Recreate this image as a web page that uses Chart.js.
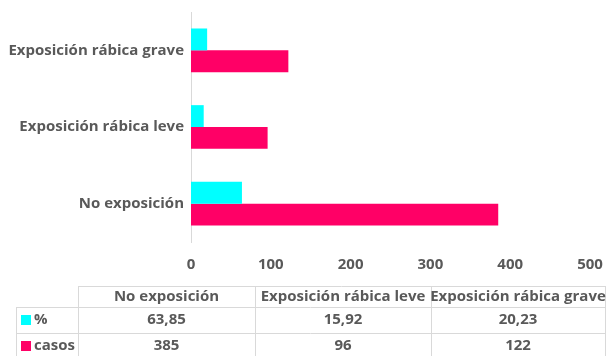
<!DOCTYPE html>
<html lang="es">
<head>
    <meta charset="UTF-8">
    <title>Exposición rábica</title>
    <script src="https://cdn.jsdelivr.net/npm/chart.js"></script>
    <style>
        html, body { margin: 0; padding: 0; background: #fff; }
        .chart-box { width: 609px; height: 356px; }
    </style>
</head>
<body>
    <div class="chart-box">
        <canvas id="grafik"></canvas>
    </div>

    <script>
        // Datos
        const categorias = ['No exposición', 'Exposición rábica leve', 'Exposición rábica grave'];
        const porcentaje = [63.85, 15.92, 20.23];
        const casos = [385, 96, 122];
        const porcentajeTexto = ['63,85', '15,92', '20,23'];
        const casosTexto = ['385', '96', '122'];
        const ticksX = [0, 100, 200, 300, 400, 500];

        const gris = '#595959';
        const linea = '#d9d9d9';
        const fuente = '"Open Sans", sans-serif';
        const tam = 15;

        // Tabla de datos debajo del gráfico
        const tablaDatos = {
            id: 'tablaDatos',
            afterDraw(chart) {
                const ctx = chart.ctx;
                const cols = [78, 255, 431, 605];
                const filas = [286, 307, 333, 356];
                ctx.save();
                ctx.strokeStyle = linea;
                ctx.lineWidth = 1;
                ctx.beginPath();
                ctx.moveTo(cols[0], filas[0] + 0.5); ctx.lineTo(cols[3], filas[0] + 0.5);
                ctx.moveTo(16, filas[1] + 0.5); ctx.lineTo(cols[3], filas[1] + 0.5);
                ctx.moveTo(16, filas[2] + 0.5); ctx.lineTo(cols[3], filas[2] + 0.5);
                ctx.moveTo(16.5, filas[1]); ctx.lineTo(16.5, filas[3]);
                cols.forEach(x => { ctx.moveTo(x + 0.5, filas[0]); ctx.lineTo(x + 0.5, filas[3]); });
                ctx.stroke();

                ctx.fillStyle = gris;
                ctx.font = 'bold ' + tam + 'px ' + fuente;
                ctx.textAlign = 'center';
                ctx.textBaseline = 'middle';
                const series = [porcentajeTexto, casosTexto];
                categorias.forEach((c, i) => {
                    const cx = (cols[i] + cols[i + 1]) / 2;
                    ctx.fillText(c, cx, 297);
                    ctx.fillText(series[0][i], cx, 320);
                    ctx.fillText(series[1][i], cx, 346);
                });

                // leyenda
                const ds = chart.data.datasets;
                const yLeyenda = [320, 346];
                ds.forEach((d, i) => {
                    ctx.fillStyle = d.backgroundColor;
                    ctx.fillRect(21, yLeyenda[i] - 5, 10, 10);
                    ctx.fillStyle = gris;
                    ctx.textAlign = 'left';
                    ctx.fillText(d.label, 34, yLeyenda[i]);
                });
                ctx.restore();
            }
        };

        const ctx = document.getElementById('grafik').getContext('2d');
        new Chart(ctx, {
            type: 'bar',
            data: {
                labels: categorias,
                datasets: [{
                    label: '%',
                    data: porcentaje,
                    backgroundColor: '#00FFFF',
                    borderWidth: 0
                }, {
                    label: 'casos',
                    data: casos,
                    backgroundColor: '#FF0066',
                    borderWidth: 0
                }]
            },
            options: {
                indexAxis: 'y',
                responsive: true,
                maintainAspectRatio: false,
                animation: false,
                datasets: {
                    bar: { categoryPercentage: 0.57, barPercentage: 1 }
                },
                layout: { padding: { top: 12, right: 19, bottom: 82, left: 0 } },
                plugins: {
                    legend: { display: false },
                    tooltip: { enabled: false }
                },
                scales: {
                    y: {
                        reverse: true,
                        afterFit: s => { s.width = 191; s.paddingTop = 0; s.paddingBottom = 0; },
                        grid: { display: false, drawTicks: false },
                        border: { display: true, color: linea, width: 1 },
                        ticks: { color: gris, padding: 7, font: { family: fuente, size: tam, weight: 'bold' } }
                    },
                    x: {
                        min: 0,
                        max: 500,
                        afterFit: s => { s.height = 32; s.paddingLeft = 0; s.paddingRight = 0; },
                        afterBuildTicks: s => { s.ticks = ticksX.map(v => ({ value: v })); },
                        grid: { display: false, drawTicks: false },
                        border: { display: false },
                        ticks: { color: gris, padding: 14, font: { family: fuente, size: tam, weight: 'bold' } }
                    }
                }
            },
            plugins: [tablaDatos]
        });
    </script>
</body>
</html>
